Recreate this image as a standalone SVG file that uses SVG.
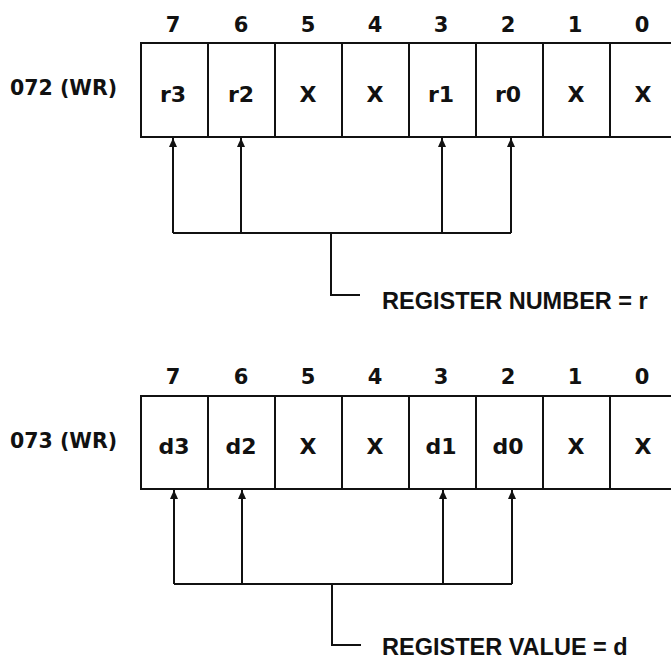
<svg xmlns="http://www.w3.org/2000/svg" width="671" height="661" viewBox="0 0 671 661">
  <style>
    text { font-family: "DejaVu Sans", "Liberation Sans", sans-serif; font-weight: bold; fill: #111; }
    .bit { font-size: 21px; text-anchor: middle; }
    .cell { font-size: 22px; text-anchor: middle; }
    .name { font-size: 20.5px; }
    .note { font-family: "Liberation Sans", Arial, sans-serif; font-size: 23.5px; }
    .box { fill: #fff; stroke: #111; stroke-width: 2; }
    .div { stroke: #111; stroke-width: 2; }
    .wire { fill: none; stroke: #111; stroke-width: 2; }
  </style>
  <defs>
    <marker id="tip" viewBox="0 0 9 8" refX="9" refY="4" markerWidth="9" markerHeight="8" markerUnits="userSpaceOnUse" orient="auto">
      <path d="M0,0 L9,4 L0,8 Z" fill="#111"/>
    </marker>
  </defs>

  <rect width="671" height="661" fill="#fff"/>

  <!-- Register 072: register number select -->
  <g id="reg072">
    <text class="name" x="10" y="95">072 (WR)</text>
    <g id="reg072-bits">
      <text class="bit" x="173" y="32">7</text>
      <text class="bit" x="241" y="32">6</text>
      <text class="bit" x="308" y="32">5</text>
      <text class="bit" x="375" y="32">4</text>
      <text class="bit" x="441" y="32">3</text>
      <text class="bit" x="508" y="32">2</text>
      <text class="bit" x="575" y="32">1</text>
      <text class="bit" x="642" y="32">0</text>
    </g>
    <rect class="box" x="141" y="43" width="536" height="94"/>
    <path class="div" d="M208,43V137 M275,43V137 M342,43V137 M409,43V137 M476,43V137 M543,43V137 M610,43V137"/>
    <g id="reg072-cells">
      <text class="cell" x="173" y="102">r3</text>
      <text class="cell" x="241" y="102">r2</text>
      <text class="cell" x="308" y="102">X</text>
      <text class="cell" x="375" y="102">X</text>
      <text class="cell" x="441" y="102">r1</text>
      <text class="cell" x="508" y="102">r0</text>
      <text class="cell" x="576" y="102">X</text>
      <text class="cell" x="643" y="102">X</text>
    </g>
  </g>

  <!-- Register 073: register value -->
  <g id="reg073">
    <text class="name" x="10" y="448">073 (WR)</text>
    <g id="reg073-bits">
      <text class="bit" x="173" y="384">7</text>
      <text class="bit" x="241" y="384">6</text>
      <text class="bit" x="308" y="384">5</text>
      <text class="bit" x="375" y="384">4</text>
      <text class="bit" x="441" y="384">3</text>
      <text class="bit" x="508" y="384">2</text>
      <text class="bit" x="575" y="384">1</text>
      <text class="bit" x="642" y="384">0</text>
    </g>
    <rect class="box" x="141" y="396" width="536" height="93"/>
    <path class="div" d="M208,396V489 M275,396V489 M342,396V489 M409,396V489 M476,396V489 M543,396V489 M610,396V489"/>
    <g id="reg073-cells">
      <text class="cell" x="174" y="454">d3</text>
      <text class="cell" x="241" y="454">d2</text>
      <text class="cell" x="308" y="454">X</text>
      <text class="cell" x="375" y="454">X</text>
      <text class="cell" x="441" y="454">d1</text>
      <text class="cell" x="508" y="454">d0</text>
      <text class="cell" x="576" y="454">X</text>
      <text class="cell" x="643" y="454">X</text>
    </g>
  </g>

  <!-- Bit-field collectors -->
  <g id="connectors">
    <path class="wire" d="M173,233H511" />
    <path class="wire" d="M173,233V138" marker-end="url(#tip)"/>
    <path class="wire" d="M241,233V138" marker-end="url(#tip)"/>
    <path class="wire" d="M442,233V138" marker-end="url(#tip)"/>
    <path class="wire" d="M511,233V138" marker-end="url(#tip)"/>
    <path class="wire" d="M331,233V295H360"/>

    <path class="wire" d="M174,584H512" />
    <path class="wire" d="M174,584V490" marker-end="url(#tip)"/>
    <path class="wire" d="M242,584V490" marker-end="url(#tip)"/>
    <path class="wire" d="M443,584V490" marker-end="url(#tip)"/>
    <path class="wire" d="M512,584V490" marker-end="url(#tip)"/>
    <path class="wire" d="M332,584V645H361"/>
  </g>

  <g id="label-number">
    <text class="note" x="382" y="309">REGISTER NUMBER = r</text>
  </g>
  <g id="label-value">
    <text class="note" x="382" y="655">REGISTER VALUE = d</text>
  </g>
</svg>
